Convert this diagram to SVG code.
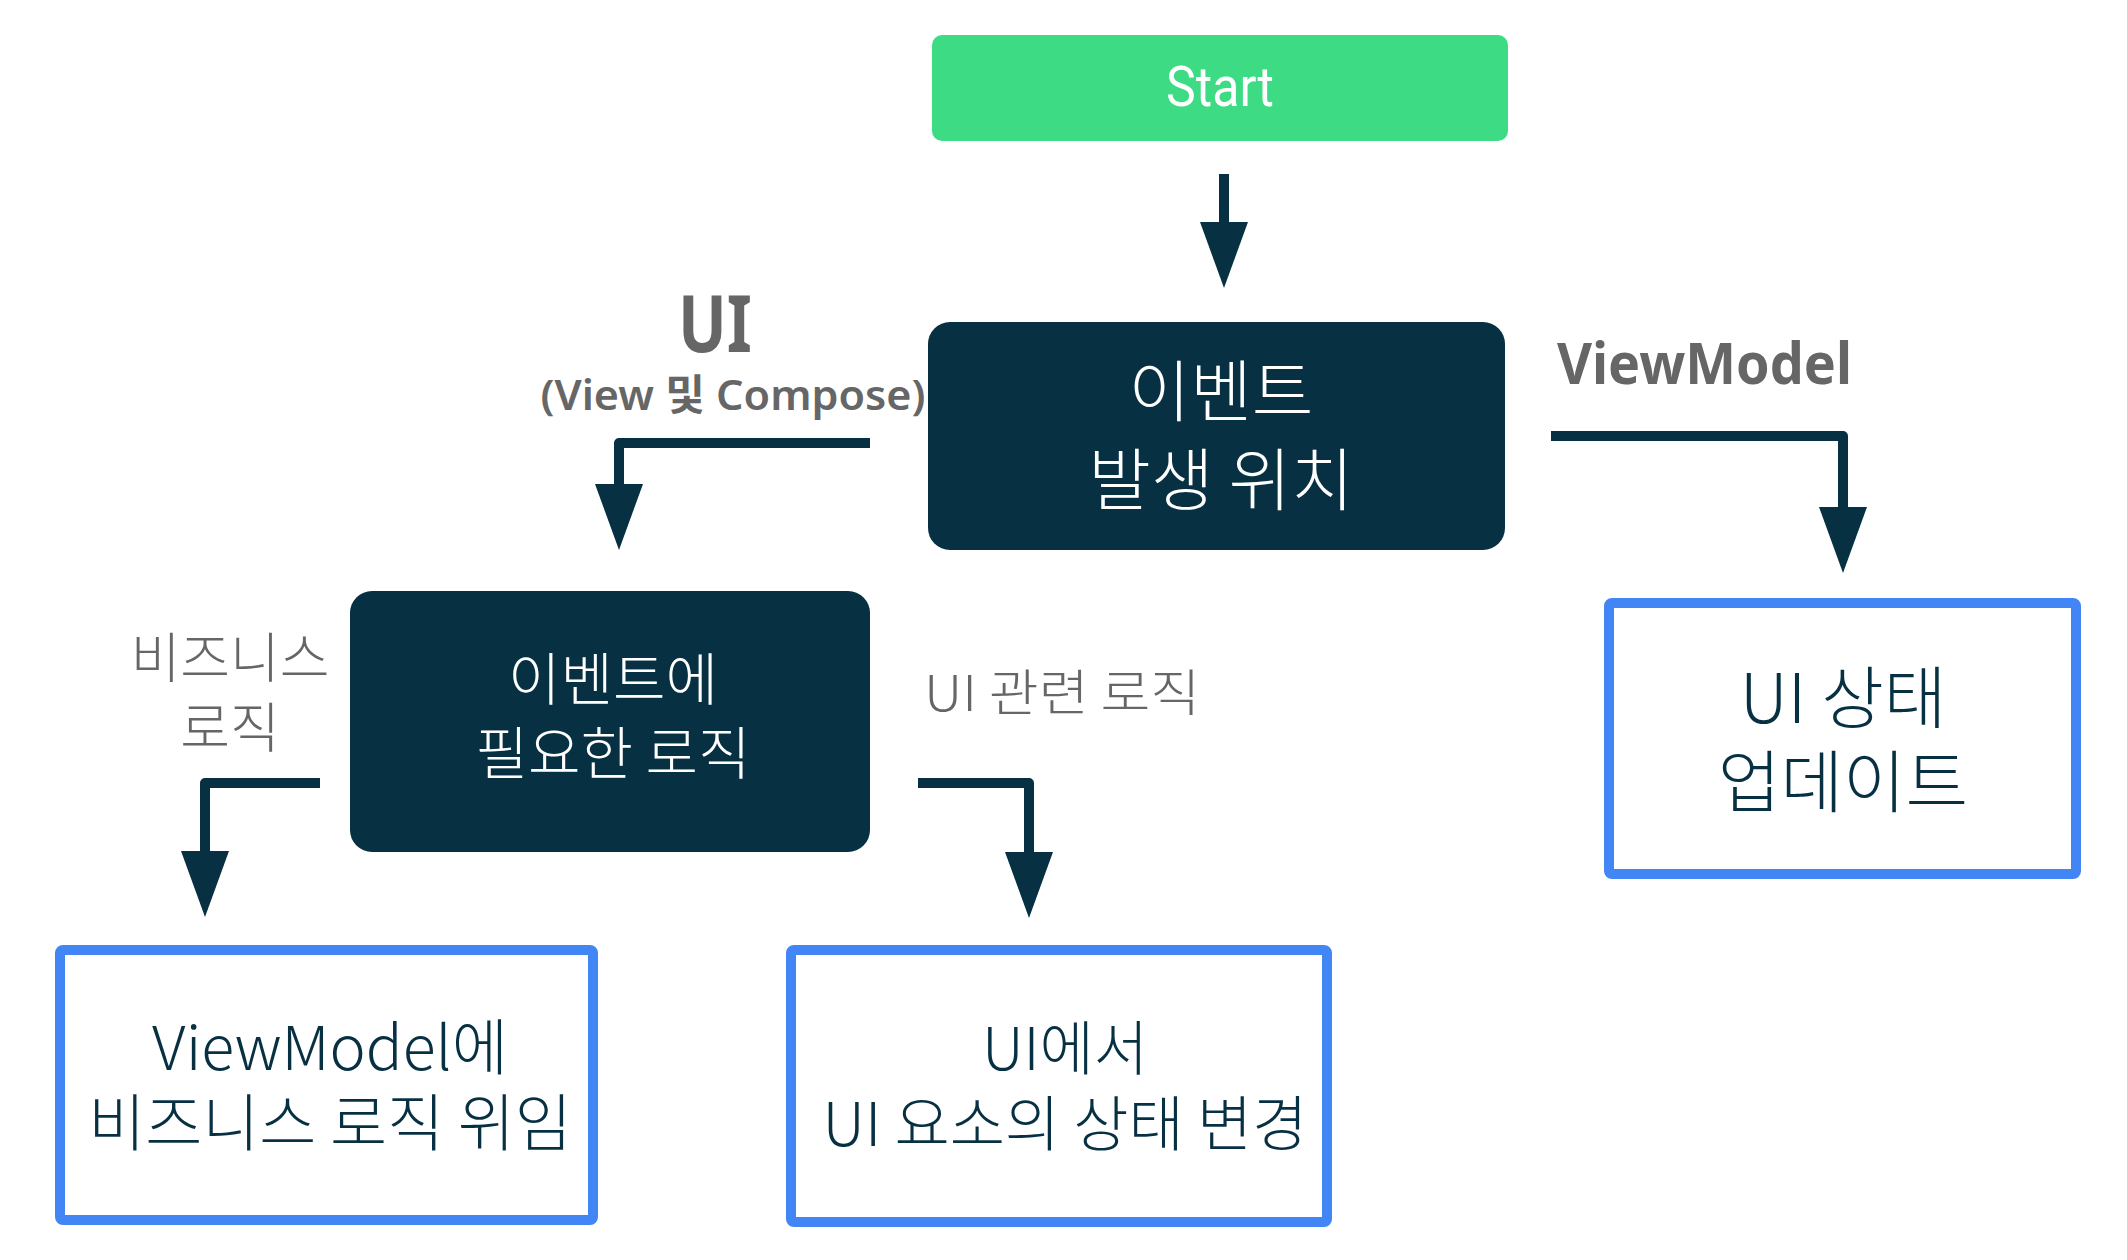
<svg xmlns="http://www.w3.org/2000/svg" width="2127" height="1260" viewBox="0 0 2127 1260">
  <defs>
    <style>
      .dark { fill: #073042; }
      .outline { fill: #ffffff; stroke: #4285F4; stroke-width: 10; }
      .wt { fill: #ffffff; font-family: "Noto Sans CJK KR", "Noto Sans", sans-serif; font-weight: 300; text-anchor: middle; }
      .dt { fill: #073042; font-family: "Noto Sans CJK KR", "Noto Sans", sans-serif; font-weight: 300; text-anchor: middle; }
      .lbl { fill: #666666; font-family: "Noto Sans", "Noto Sans CJK KR", sans-serif; text-anchor: middle; }
      .lt { fill: #666666; font-family: "Noto Sans CJK KR", "Noto Sans", sans-serif; font-weight: 300; text-anchor: middle; }
      .conn { fill: none; stroke: #073042; stroke-width: 10; stroke-linejoin: round; marker-end: url(#head); }
    </style>
    <marker id="head" markerUnits="userSpaceOnUse" markerWidth="70" markerHeight="52" refX="0" refY="25" orient="auto" viewBox="0 0 70 52">
      <path d="M0,1 L66,25 L0,49 z" fill="#073042"/>
    </marker>
  </defs>
  <rect width="2127" height="1260" fill="#ffffff"/>

  <g id="connectors">
    <path class="conn" d="M1224,174 V222"/>
    <path class="conn" d="M870,443 H619 V484"/>
    <path class="conn" d="M1551,436 H1843 V507"/>
    <path class="conn" d="M320,783 H205 V851"/>
    <path class="conn" d="M918,783 H1029 V852"/>
  </g>

  <g id="start">
    <rect x="932" y="35" width="576" height="106" rx="10" fill="#3DDC84"/>
    <text x="1220" y="106" style="fill:#ffffff;font-family:Roboto,'Noto Sans',sans-serif;font-size:56px;text-anchor:middle" textLength="108" lengthAdjust="spacingAndGlyphs">Start</text>
  </g>

  <g id="event-origin">
    <rect class="dark" x="928" y="322" width="577" height="228" rx="22"/>
    <text class="wt" x="1221" y="416" font-size="67">이벤트</text>
    <text class="wt" x="1221" y="505" font-size="68">발생 위치</text>
  </g>

  <g id="label-ui">
    <text class="lbl" x="715" y="352" font-size="78" font-weight="700" textLength="74" lengthAdjust="spacingAndGlyphs">UI</text>
    <text class="lbl" x="733" y="410" font-size="42" font-weight="600" textLength="385" lengthAdjust="spacingAndGlyphs">(View 및 Compose)</text>
  </g>

  <g id="label-viewmodel">
    <text class="lbl" x="1557" y="384" font-size="58" font-weight="700" style="text-anchor:start" textLength="295" lengthAdjust="spacingAndGlyphs">ViewModel</text>
  </g>

  <g id="ui-state-update">
    <rect class="outline" x="1609" y="603" width="467" height="271" rx="3"/>
    <text class="dt" x="1843" y="723" font-size="68">UI 상태</text>
    <text class="dt" x="1843" y="807" font-size="68">업데이트</text>
  </g>

  <g id="event-logic">
    <rect class="dark" x="350" y="591" width="520" height="261" rx="22"/>
    <text class="wt" x="613" y="700" font-size="57">이벤트에</text>
    <text class="wt" x="613" y="774" font-size="57">필요한 로직</text>
  </g>

  <g id="label-business">
    <text class="lt" x="230" y="678" font-size="54">비즈니스</text>
    <text class="lt" x="230" y="748" font-size="54">로직</text>
  </g>

  <g id="label-ui-logic">
    <text class="lt" x="1062" y="711" font-size="50" textLength="276" lengthAdjust="spacingAndGlyphs">UI 관련 로직</text>
  </g>

  <g id="delegate-viewmodel">
    <rect class="outline" x="60" y="950" width="533" height="270" rx="3"/>
    <text class="dt" x="330" y="1070" font-size="61">ViewModel에</text>
    <text class="dt" x="330" y="1146" font-size="62">비즈니스 로직 위임</text>
  </g>

  <g id="change-ui-state">
    <rect class="outline" x="791" y="950" width="536" height="272" rx="3"/>
    <text class="dt" x="1065" y="1070" font-size="59">UI에서</text>
    <text class="dt" x="1065" y="1146" font-size="60">UI 요소의 상태 변경</text>
  </g>
</svg>
